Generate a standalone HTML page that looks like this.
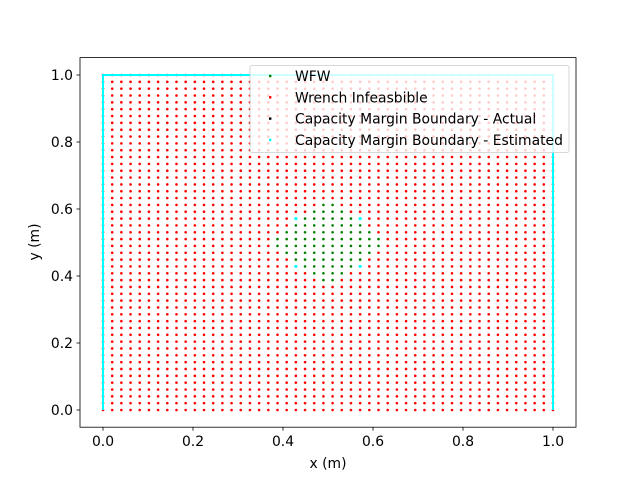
<!DOCTYPE html>
<html><head><meta charset="utf-8"><style>
body{margin:0;background:#fff}
svg{display:block;font-family:"DejaVu Sans","Liberation Sans",sans-serif}
</style></head><body>
<svg id="chart" width="640" height="480" viewBox="0 0 640 480" xmlns="http://www.w3.org/2000/svg">
<rect x="0" y="0" width="640" height="480" fill="#fff"/>
<g id="plot"></g>
<rect x="80" y="57.6" width="496" height="369.6" fill="none" stroke="#000" stroke-width="0.8"/>
<g id="ticks"></g>
<text x="328" y="468" font-size="13.9" text-anchor="middle">x (m)</text>
<text x="39" y="242" font-size="13.9" text-anchor="middle" transform="rotate(-90 39 242)">y (m)</text>
<g id="legend"></g>
</svg>
<script>
const gridN = 50;
const xTicks = [0, 0.2, 0.4, 0.6, 0.8, 1.0];
const yTicks = [0, 0.2, 0.4, 0.6, 0.8, 1.0];
const xTickLabels = ["0.0","0.2","0.4","0.6","0.8","1.0"];
const yTickLabels = ["0.0","0.2","0.4","0.6","0.8","1.0"];
// WFW (green) region: row index -> [startCol, endCol]
const wfwRows = [19,20,21,22,23,24,25,26,27,28,29,30];
const wfwStart = [24,23,21,21,20,19,19,20,21,21,23,24];
const wfwEnd   = [25,26,28,28,29,30,30,29,28,28,26,25];
// estimated boundary interior points [col,row]
const estCols = [21,28,21,28];
const estRowsIdx = [21,21,28,28];
// estimated boundary outer lines (data coords)
const estLineX = [0,0,1,1];
const estLineY = [0,1,1,0];
const legendLabels = ["WFW","Wrench Infeasbible","Capacity Margin Boundary - Actual","Capacity Margin Boundary - Estimated"];
const legendColors = ["#008000","#ff0000","#000000","#00ffff"];

const NS="http://www.w3.org/2000/svg";
const X = v => 103 + v*450;
const Y = v => 410 - v*335;
function mk(t,a,p){const e=document.createElementNS(NS,t);for(const k in a)e.setAttribute(k,a[k]);p.appendChild(e);return e;}
const plot=document.getElementById('plot');
function isGreen(c,r){const i=wfwRows.indexOf(r);return i>=0&&c>=wfwStart[i]&&c<=wfwEnd[i];}
for(let r=0;r<gridN;r++){for(let c=0;c<gridN;c++){
  const g=isGreen(c,r);
  const d=mk('circle',{cx:X(c/(gridN-1)),cy:Y(r/(gridN-1)),r:1.3,fill:g?'#008000':'#ff0000'},plot);
  
  
}}
for(let i=0;i<estCols.length;i++){
  const d=mk('circle',{cx:X(estCols[i]/(gridN-1)),cy:Y(estRowsIdx[i]/(gridN-1)),r:1.6,fill:'#00ffff'},plot);
  
  
}
const pts=estLineX.map((x,i)=>X(x)+','+Y(estLineY[i])).join(' ');
const pl=mk('polyline',{points:pts,fill:'none',stroke:'#00ffff','stroke-width':2},plot);



const tk=document.getElementById('ticks');
xTicks.forEach((v,i)=>{
  const l=mk('line',{x1:X(v),x2:X(v),y1:427.2,y2:430.7,stroke:'#000','stroke-width':0.8},tk);
  
  
  const t=mk('text',{x:X(v),y:446,'font-size':13.9,'text-anchor':'middle'},tk);
  t.textContent=xTickLabels[i];
  
  
});
yTicks.forEach((v,i)=>{
  const l=mk('line',{x1:76.5,x2:80,y1:Y(v),y2:Y(v),stroke:'#000','stroke-width':0.8},tk);
  
  
  const t=mk('text',{x:73,y:Y(v)+5,'font-size':13.9,'text-anchor':'end'},tk);
  t.textContent=yTickLabels[i];
  
  
});

const lg=document.getElementById('legend');
const box=mk('rect',{x:250,y:65.5,width:319,height:87,rx:2,fill:'#fff','fill-opacity':0.8,stroke:'#ccc','stroke-width':0.8},lg);


legendLabels.forEach((s,i)=>{
  const y=76+i*21.3;
  const m=mk('rect',{x:269,y:y-1.2,width:2.4,height:2.4,fill:legendColors[i]},lg);
  
  
  const t=mk('text',{x:295,y:y+5,'font-size':13.9},lg);
  t.textContent=s;
  
  
});
</script>
</body></html>
